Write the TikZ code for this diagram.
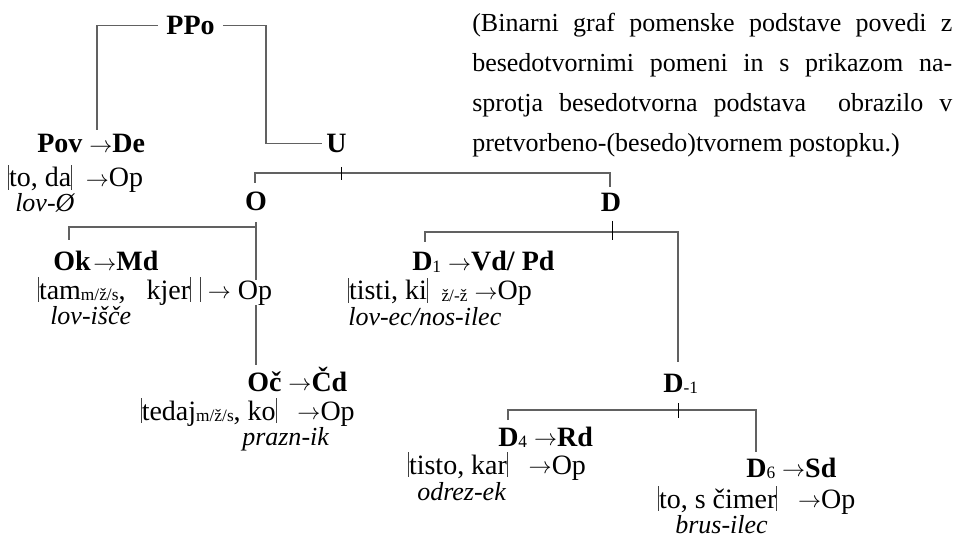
\documentclass[tikz,border=0pt]{standalone}
\usepackage{fontspec}
\setmainfont{Liberation Serif}
\usetikzlibrary{calc}
\newcommand\vb{{\color{black!75}\rule[-0.09em]{0.55pt}{0.86em}}}
\newcommand\ar{\raisebox{0.03em}{\fontsize{17}{17}\selectfont$\rightarrow$}}
\newcommand\sbs[1]{\raisebox{-0.15ex}{\fontsize{13}{13}\selectfont\mdseries\upshape #1}}
\tikzset{
  lbl/.style={inner sep=0pt, anchor=base west, text depth=0pt},
  itl/.style={lbl, font=\fontsize{19.5}{22.5}\selectfont\itshape},
  ln/.style={draw=black!62, line width=0.95pt},
  tick/.style={draw=black, line width=0.75pt},
}
\begin{document}
\begin{tikzpicture}[x=0.75pt,y=-0.75pt,
  every node/.append style={font=\fontsize{21}{24}\selectfont}]
\useasboundingbox (0,0) rectangle (955,541);

% caption
\node[lbl, text depth=] (cap) at (472,32) {\parbox[t]{360pt}{\fontsize{19.5}{30}\selectfont
(Binarni graf pomenske podstave povedi z\linebreak
besedotvornimi pomeni in s prikazom na-\linebreak
sprotja besedotvorna podstava\ \ obrazilo v\linebreak
pretvorbeno-(besedo)tvornem postopku.)}};

% nodes
\node[lbl, anchor=base, inner xsep=6pt] (ppo) at (190.5,35) {\textbf{PPo}};
\node[lbl, inner xsep=3pt, anchor=base west] (u) at (322,153) {\textbf{U}};

\node[lbl] (pov) at (37,153) {\textbf{Pov} \ar\textbf{De}};
\node[lbl] (povb) at (8,187) {\vb to, da\vb\ \ \ar Op};
\node[itl] (povc) at (15,212) {lov-Ø};

\node[lbl, anchor=base] (o) at (256,211) {\textbf{O}};
\node[lbl, anchor=base] (d) at (611,212) {\textbf{D}};

\node[lbl] (ok) at (53,271) {\textbf{Ok}\hspace{2pt}\ar\textbf{Md}};
\node[lbl] (okb) at (38,299) {\vb tam\sbs{m/ž/s},\ \ \ kjer\vb\hspace{7pt}\vb\ \ar\ Op};
\node[itl] (okc) at (50,324) {lov-išče};

\node[lbl] (oc) at (247,391) {\textbf{Oč} \ar\textbf{Čd}};
\node[lbl, anchor=base east] (ocb) at (355,420) {\vb tedaj\sbs{m/ž/s}, ko\vb\ \ \ \ar Op};
\node[itl] (occ) at (242,445) {prazn-ik};

\node[lbl] (d1) at (412,271) {\textbf{D}\sbs{1} \ar\textbf{Vd\smash{/}\ Pd}};
\node[lbl] (d1b) at (348,300) {\vb tisti, ki\vb\ \ \sbs{ž/-ž}\ \ar Op};
\node[itl] (d1c) at (348,325) {lov-ec/nos-ilec};

\node[lbl] (dm) at (663,392) {\textbf{D}\sbs{-1}};

\node[lbl] (d4) at (498,446) {\textbf{D}\sbs{4} \ar\textbf{Rd}};
\node[lbl] (d4b) at (408,474) {\vb tisto, kar\vb\ \ \ \ar Op};
\node[itl] (d4c) at (417,500) {odrez-ek};

\node[lbl] (d6) at (746,477) {\textbf{D}\sbs{6} \ar\textbf{Sd}};
\node[lbl] (d6b) at (658,508) {\vb to, s čimer\vb\ \ \ \ar Op};
\node[itl] (d6c) at (675,533) {brus-ilec};

% coordinates
\coordinate (povtop) at (97,130);
\coordinate (ujoin) at ($(u.west)+(-56,0)$);
\coordinate (uL) at (255,183);
\coordinate (uLc) at (255,173);
\coordinate (uRc) at (610,173);
\coordinate (uR) at (610,187);
\coordinate (uT1) at (341,167);
\coordinate (uT2) at (341,180);

\coordinate (oL) at (69,240);
\coordinate (oLc) at (69,227);
\coordinate (oT) at (256,222);
\coordinate (oB1) at (256,280);
\coordinate (oB2) at (256,305);
\coordinate (oB3) at (256,365);

\coordinate (dL) at (425,242);
\coordinate (dLc) at (425,232);
\coordinate (dRc) at (678,232);
\coordinate (dR) at (678,362);
\coordinate (dT1) at (612,221);
\coordinate (dT2) at (612,240);

\coordinate (mL) at (508,420);
\coordinate (mLc) at (508,410);
\coordinate (mRc) at (756,410);
\coordinate (mR) at (756,452);
\coordinate (mT1) at (678,403);
\coordinate (mT2) at (678,418);

% connectors
\draw[ln] (povtop) |- (ppo.west);
\draw[ln] (ppo.east) -| (ujoin) -- (u.west);
\draw[ln] (uL) -- (uLc) -- (uRc) -- (uR);
\draw[tick] (uT1) -- (uT2);

\draw[ln] (oL) -- (oLc) -- (oLc -| oT);
\draw[ln] (oT) -- (oB1);
\draw[ln] (oB2) -- (oB3);

\draw[ln] (dL) -- (dLc) -- (dRc) -- (dR);
\draw[tick] (dT1) -- (dT2);

\draw[ln] (mL) -- (mLc) -- (mRc) -- (mR);
\draw[tick] (mT1) -- (mT2);
\end{tikzpicture}
\end{document}
